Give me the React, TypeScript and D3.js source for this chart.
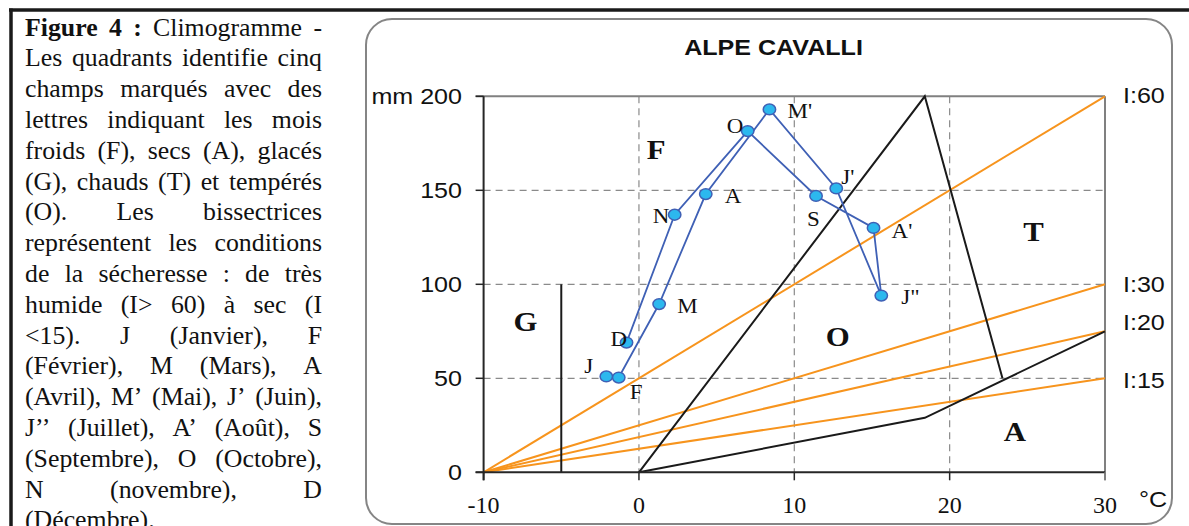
import { useEffect, useRef } from 'react'
import * as d3 from 'd3'

// monthly climate (temperature °C, precipitation mm)
const months = ['J', 'F', 'M', 'A', "M'", "J'", 'J"', "A'", 'S', 'O', 'N', 'D']
const temps = [-2.1, -1.3, 1.3, 4.3, 8.4, 12.7, 15.6, 15.1, 11.4, 7.0, 2.3, -0.8]
const precip = [51, 50.4, 89.5, 148, 193, 151, 94, 130, 147, 181.5, 137, 69]
// label offsets (px) around each month point
const monthDx = [-22, 11, 18, 19, 18, 5, 20, 18, -9, -21, -22, -16]
const monthDy = [-3, 21, 9, 9, 9, -4, 8, 10, 30, 2, 8, 3]

const xTicks = [-10, 0, 10, 20, 30]
const xTickLabels = ['-10', '0', '10', '20', '30']
const yTicks = [0, 50, 100, 150, 200]
const yTickLabels = ['0', '50', '100', '150', 'mm 200']

// aridity index lines, from (-10, 0) to (30, end)
const indexLabels = ['I:60', 'I:30', 'I:20', 'I:15']
const indexEnds = [200, 100, 75, 50]
const indexLabelDy = [7, 7.5, -1, 10]

// zone boundaries
const warmBound: [number, number][] = [[0, 0], [18.4, 200], [23.4, 50]]
const dryBound: [number, number][] = [[0, 0], [18.4, 29], [30, 75]]
const frostBound: [number, number][] = [[-5, 0], [-5, 100]]

const zoneLetters = ['F', 'G', 'O', 'T', 'A']
const zoneAt: [number, number][] = [[1.1, 166.5], [-7.3, 75], [12.8, 67], [25.4, 123], [24.2, 16.5]]

const paraLines = [
  'Figure 4 : Climogramme -',
  'Les quadrants identifie cinq',
  'champs marqués avec des',
  'lettres indiquant les mois',
  'froids (F), secs (A), glacés',
  '(G), chauds (T) et tempérés',
  '(O). Les bissectrices',
  'représentent les conditions',
  'de la sécheresse : de très',
  'humide (I> 60) à sec (I',
  '<15). J (Janvier), F',
  '(Février), M (Mars), A',
  '(Avril), M’ (Mai), J’ (Juin),',
  'J’’ (Juillet), A’ (Août), S',
  '(Septembre), O (Octobre),',
  'N (novembre), D',
  '(Décembre).',
]

const SANS = 'Liberation Sans, Arial, sans-serif'
const SERIF = 'Liberation Serif, Times New Roman, serif'
const ORANGE = '#f7941d'
const BLUE = '#3f60b5'

function SText({ x, y, sx = 1, anchor = 'start', children, ...rest }: any) {
  return (
    <text transform={`translate(${x},${y}) scale(${sx},1)`} textAnchor={anchor} {...rest}>
      {children}
    </text>
  )
}

export default function App() {
  const paraRef = useRef<SVGGElement>(null)

  const x = d3.scaleLinear().domain([-10, 30]).range([483.6, 1105])
  const y = d3.scaleLinear().domain([0, 200]).range([472.3, 96.3])
  const line = d3.line<[number, number]>().x(d => x(d[0])).y(d => y(d[1]))
  const pts: [number, number][] = temps.map((t, i) => [t, precip[i]])

  useEffect(() => {
    document.body.style.margin = '0'
    if (!paraRef.current) return
    const g = d3.select(paraRef.current)
    g.selectAll('*').remove()
    const left = 25
    const width = 297
    paraLines.forEach((ln, i) => {
      const words = ln.split(' ').filter(Boolean)
      const yy = 35.5 + i * 30.8
      const nodes = words.map((w, j) =>
        g.append('text')
          .attr('y', yy)
          .attr('font-family', SERIF)
          .attr('font-size', 25.8)
          .attr('font-weight', i === 0 && j < 3 ? 'bold' : 'normal')
          .attr('fill', '#111')
          .text(w)
      )
      const widths = nodes.map(n => (n.node() as SVGTextElement).getComputedTextLength())
      const total = d3.sum(widths)
      const last = i === paraLines.length - 1
      const gap = !last && words.length > 1 ? (width - total) / (words.length - 1) : 6.5
      let cx = left
      nodes.forEach((n, j) => {
        n.attr('x', cx)
        cx += widths[j] + gap
      })
    })
  }, [])

  return (
    <svg width={1189} height={526} style={{ display: 'block', position: 'absolute', left: 0, top: 0 }}>
      <rect width={1189} height={526} fill="#fff" />
      {/* page frame */}
      <line x1={9} x2={1189} y1={10} y2={10} stroke="#1a1a1a" strokeWidth={3.5} />
      <line x1={11} x2={11} y1={8.5} y2={526} stroke="#1a1a1a" strokeWidth={3.5} />
      <g ref={paraRef} />

      {/* chart box */}
      <rect x={366} y={19} width={806} height={505} rx={26} fill="#fff" stroke="#858585" strokeWidth={2} />
      <SText x={773.5} y={55} sx={1.14} anchor="middle" fontFamily={SANS} fontWeight="bold" fontSize={22} fill="#111">
        ALPE CAVALLI
      </SText>

      {/* grid */}
      {[0, 10, 20].map(t => (
        <line key={'gx' + t} x1={x(t)} x2={x(t)} y1={y(200)} y2={y(0)} stroke="#8a8a8a" strokeWidth={1.2} strokeDasharray="7,5" />
      ))}
      {[50, 100, 150].map(p => (
        <line key={'gy' + p} x1={x(-10)} x2={x(30)} y1={y(p)} y2={y(p)} stroke="#8a8a8a" strokeWidth={1.2} strokeDasharray="7,5" />
      ))}
      {/* frame */}
      <line x1={x(-10) - 8} x2={x(30)} y1={y(200)} y2={y(200)} stroke="#808080" strokeWidth={2} />
      <line x1={x(30)} x2={x(30)} y1={y(200)} y2={y(0) + 8} stroke="#808080" strokeWidth={2} />

      {/* index lines */}
      {indexEnds.map((e, i) => (
        <line key={'ix' + i} x1={x(-10)} y1={y(0)} x2={x(30)} y2={y(e)} stroke={ORANGE} strokeWidth={2} />
      ))}

      {/* zone boundaries */}
      <path d={line(warmBound) || ''} fill="none" stroke="#1a1a1a" strokeWidth={2} />
      <path d={line(dryBound) || ''} fill="none" stroke="#1a1a1a" strokeWidth={2} />
      <path d={line(frostBound) || ''} fill="none" stroke="#1a1a1a" strokeWidth={2} />

      {/* axes */}
      <line x1={x(-10)} x2={x(-10)} y1={y(200)} y2={y(0) + 8} stroke="#262626" strokeWidth={2} />
      <line x1={x(-10) - 8} x2={x(30)} y1={y(0)} y2={y(0)} stroke="#262626" strokeWidth={2} />
      {yTicks.map(v => (
        <line key={'yt' + v} x1={x(-10) - 8} x2={x(-10)} y1={y(v)} y2={y(v)} stroke="#262626" strokeWidth={1.5} />
      ))}
      {xTicks.map(v => (
        <line key={'xt' + v} x1={x(v)} x2={x(v)} y1={y(0)} y2={y(0) + 8} stroke={v === 30 ? '#808080' : '#262626'} strokeWidth={1.5} />
      ))}
      {yTicks.map((v, i) => (
        <SText key={'yl' + v} x={462} y={y(v) + 8} sx={1.14} anchor="end" fontFamily={SANS} fontSize={22} fill="#111">
          {yTickLabels[i]}
        </SText>
      ))}
      {xTicks.map((v, i) => (
        <SText key={'xl' + v} x={x(v)} y={513} anchor="middle" fontFamily={SERIF} fontSize={24} fill="#111">
          {xTickLabels[i]}
        </SText>
      ))}
      <SText x={1139} y={507} sx={1.14} fontFamily={SANS} fontSize={22} fill="#111">°C</SText>
      {indexLabels.map((l, i) => (
        <SText key={l} x={1123} y={y(indexEnds[i]) + indexLabelDy[i]} sx={1.14} fontFamily={SANS} fontSize={22} fill="#111">
          {l}
        </SText>
      ))}

      {/* zone letters */}
      {zoneLetters.map((l, i) => (
        <SText key={'z' + i} x={x(zoneAt[i][0])} y={y(zoneAt[i][1])} sx={1.1} anchor="middle" fontFamily={SERIF} fontWeight="bold" fontSize={28} fill="#111">
          {l}
        </SText>
      ))}

      {/* climate path */}
      <path d={line(pts) || ''} fill="none" stroke={BLUE} strokeWidth={1.8} />
      {pts.map((p, i) => (
        <ellipse key={'pt' + i} cx={x(p[0])} cy={y(p[1])} rx={6.2} ry={5.4} fill="#2cb8ee" stroke={BLUE} strokeWidth={1.5} />
      ))}
      {pts.map((p, i) => (
        <SText key={'ml' + i} x={x(p[0]) + monthDx[i]} y={y(p[1]) + monthDy[i]} sx={1.15} fontFamily={SERIF} fontSize={20} fill="#111">
          {months[i]}
        </SText>
      ))}
    </svg>
  )
}
